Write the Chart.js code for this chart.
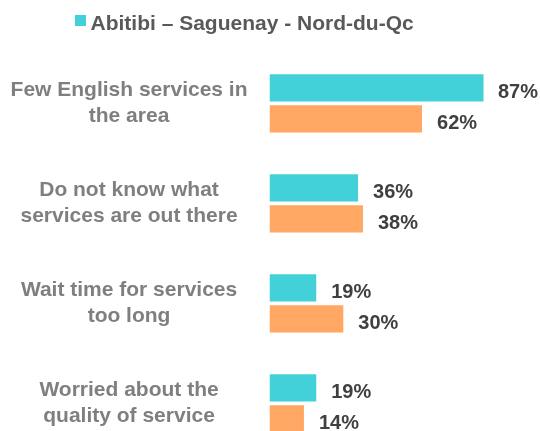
<!DOCTYPE html>
<html>
<head>
<meta charset="utf-8">
<script src="https://cdn.jsdelivr.net/npm/chart.js@4.4.1/dist/chart.umd.min.js"></script>
<style>
    html, body { margin: 0; padding: 0; background: #fff; overflow: hidden; }
    #wrap { position: relative; width: 540px; height: 460px; }
</style>
</head>
<body>
<div id="wrap"><canvas id="chart"></canvas></div>
<script>
// Categories (multi-line labels)
const categories = [
    ['Few English services in', 'the area'],
    ['Do not know what', 'services are out there'],
    ['Wait time for services', 'too long'],
    ['Worried about the', 'quality of service']
];

// Series values (%)
const regionValues = [87, 36, 19, 19];
const otherValues = [62, 38, 30, 14];

const seriesLabels = ['Abitibi – Saguenay - Nord-du-Qc', 'Comparison'];
const seriesColors = ['#42D1D9', '#FFA763'];

const FONT = "'Liberation Sans', Arial, sans-serif";

/**
 * Value labels to the right of each bar
 */
const valueLabels = {
    id: 'valueLabels',
    afterDatasetsDraw(chart) {
        const ctx = chart.ctx;
        ctx.save();
        ctx.font = 'bold 20px ' + FONT;
        ctx.fillStyle = '#404040';
        ctx.textAlign = 'left';
        ctx.textBaseline = 'alphabetic';
        chart.data.datasets.forEach((ds, di) => {
            const meta = chart.getDatasetMeta(di);
            meta.data.forEach((bar, i) => {
                const text = ds.data[i] + '%';
                const w = ctx.measureText(text).width;
                // keep label inside the canvas
                const x = Math.min(bar.x + 15, chart.width - w - 2);
                ctx.fillText(text, x, bar.y + 10);
            });
        });
        ctx.restore();
    }
};

/**
 * Legend showing only the first series
 */
const singleLegend = {
    id: 'singleLegend',
    afterDraw(chart) {
        const ctx = chart.ctx;
        const ds = chart.data.datasets[0];
        ctx.save();
        ctx.fillStyle = ds.backgroundColor;
        ctx.fillRect(75, 15, 11, 11);
        ctx.font = 'bold 21px ' + FONT;
        ctx.fillStyle = '#595959';
        ctx.textAlign = 'left';
        ctx.textBaseline = 'alphabetic';
        ctx.fillText(ds.label, 90.5, 29.5);
        ctx.restore();
    }
};

new Chart(document.getElementById('chart'), {
    type: 'bar',
    data: {
        labels: categories,
        datasets: [
            {
                label: seriesLabels[0],
                data: regionValues,
                backgroundColor: seriesColors[0],
                categoryPercentage: 0.62,
                barPercentage: 0.88
            },
            {
                label: seriesLabels[1],
                data: otherValues,
                backgroundColor: seriesColors[1],
                categoryPercentage: 0.62,
                barPercentage: 0.88
            }
        ]
    },
    options: {
        indexAxis: 'y',
        responsive: true,
        maintainAspectRatio: false,
        animation: false,
        layout: {
            padding: { top: 53.3, bottom: 6.7, left: 10.5, right: 24.5 }
        },
        plugins: {
            legend: { display: false },
            tooltip: { enabled: false }
        },
        scales: {
            x: {
                display: false,
                min: 0,
                max: 100
            },
            y: {
                grid: { display: false, drawTicks: false },
                border: { display: false },
                ticks: {
                    crossAlign: 'center',
                    padding: 22,
                    color: '#7F7F7F',
                    font: { family: FONT, size: 21, weight: 'bold', lineHeight: 1.2 }
                },
                afterFit(scale) {
                    // labels column is wider than half the canvas
                    scale.width = 259;
                    scale.paddingTop = 0;
                    scale.paddingBottom = 0;
                }
            }
        }
    },
    plugins: [valueLabels, singleLegend]
});
</script>
</body>
</html>
